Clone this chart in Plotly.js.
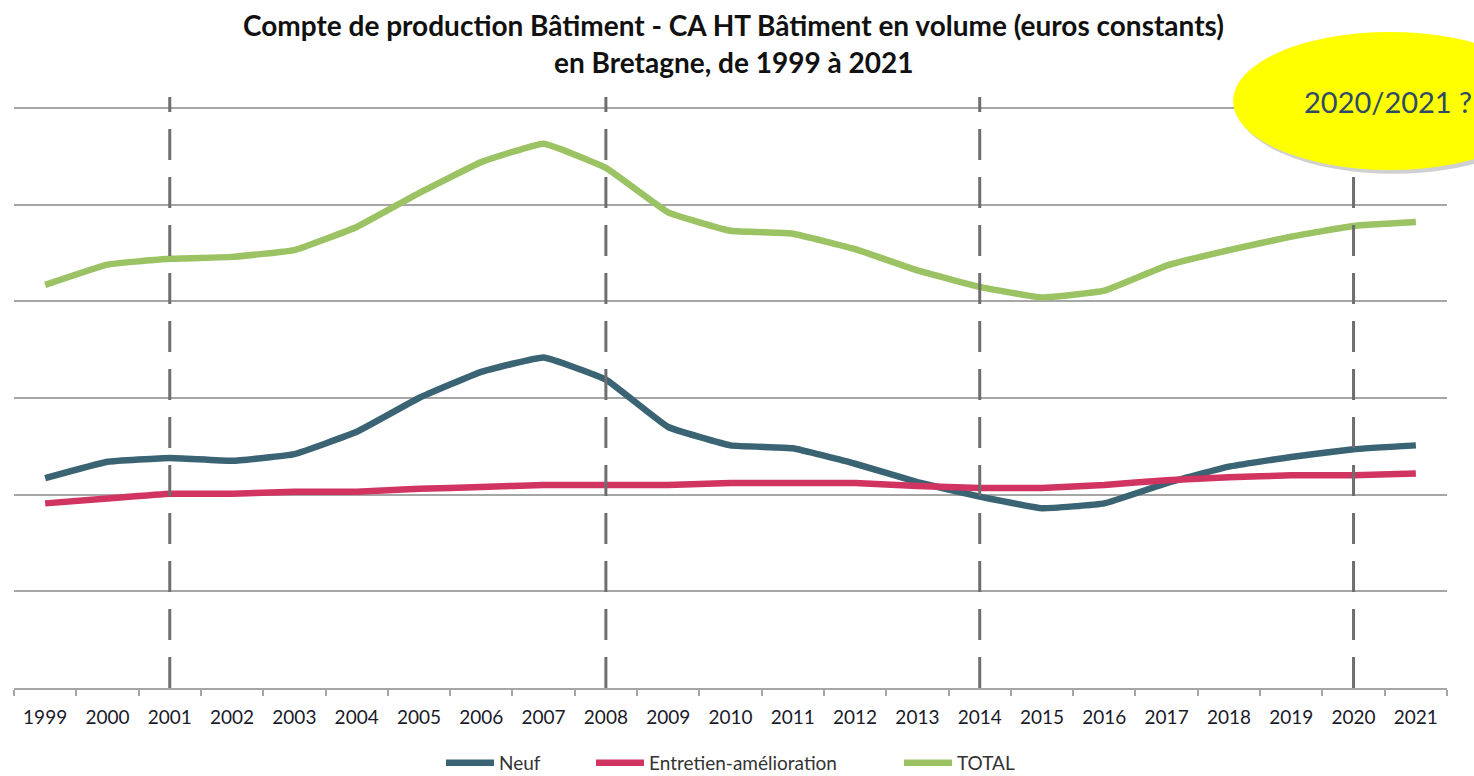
<!DOCTYPE html>
<html>
<head>
<meta charset="utf-8">
<script src="https://cdn.plot.ly/plotly-3.0.1.min.js"></script>
<style>html,body{margin:0;padding:0;background:#fff;}#chart{width:1474px;height:776px;}</style>
</head>
<body>
<div id="chart"></div>
<script>
const years = ["1999","2000","2001","2002","2003","2004","2005","2006","2007","2008","2009","2010","2011","2012","2013","2014","2015","2016","2017","2018","2019","2020","2021"];
const neuf = [2.17,2.34,2.38,2.35,2.42,2.65,3.00,3.27,3.42,3.19,2.70,2.51,2.48,2.32,2.13,1.98,1.86,1.91,2.12,2.29,2.39,2.47,2.51];
const entretien = [1.91,1.96,2.01,2.01,2.03,2.03,2.06,2.08,2.10,2.10,2.10,2.12,2.12,2.12,2.09,2.07,2.07,2.10,2.15,2.18,2.20,2.20,2.22];
const total = [4.17,4.38,4.44,4.46,4.53,4.77,5.12,5.44,5.63,5.38,4.92,4.73,4.70,4.54,4.32,4.15,4.04,4.11,4.37,4.53,4.67,4.78,4.82];
const markedYears = ["2001","2008","2014","2020"];
const seriesNames = ["Neuf","Entretien-amélioration","TOTAL"];
const colors = ["#3a6373","#d13461","#9bc263"];
const calloutText = "2020/2021 ?";
const titleLines = ["Compte de production Bâtiment - CA HT Bâtiment en volume (euros constants)", "en Bretagne, de 1999 à 2021"];

const legendIds = ["legend","legend2","legend3"];
const legendX = [441, 591, 899];

const mk = (y, i) => ({
  x: years, y: y, type: "scatter", mode: "lines", name: seriesNames[i], legend: legendIds[i],
  line: {color: colors[i], width: 6.5, shape: "spline", smoothing: 0.3},
  hoverinfo: "x+y"
});
const data = [mk(neuf,0), mk(entretien,1), mk(total,2)];

const shapes = markedYears.map(yr => ({
  type: "line", xref: "x", yref: "paper", x0: years.indexOf(yr), x1: years.indexOf(yr), y0: 0, y1: 1,
  line: {color: "#6e6e6e", width: 3, dash: "31px,17px"}, layer: "above"
}));
shapes.push({type: "circle", xref: "paper", yref: "paper", x0: 0.853, x1: 1.072, y0: 0.870, y1: 1.104,
  fillcolor: "rgba(120,120,120,0.35)", line: {width: 0}, layer: "above"});
shapes.push({type: "circle", xref: "paper", yref: "paper", x0: 0.8507, x1: 1.0698, y0: 0.8765, y1: 1.110,
  fillcolor: "#ffff00", line: {width: 0}, layer: "above"});

const legendBase = i => ({orientation: "h", xref: "container", yref: "container", x: legendX[i]/1474, xanchor: "left",
  y: (776-763)/776, yanchor: "middle", font: {size: 19, color: "#333"}, itemwidth: 48, bgcolor: "rgba(0,0,0,0)"});

const layout = {
  width: 1474, height: 776,
  margin: {l: 14, r: 27, t: 97, b: 88, autoexpand: false},
  paper_bgcolor: "#fff", plot_bgcolor: "#fff",
  font: {family: "Lato, 'DejaVu Sans', sans-serif", color: "#222"},
  xaxis: {type: "category", range: [-0.5, 22.5], tickson: "boundaries", ticks: "outside", ticklen: 6,
    tickcolor: "#a6a6a6", tickwidth: 1.5, showline: true, linecolor: "#a6a6a6", linewidth: 2,
    showgrid: false, zeroline: false, tickfont: {size: 19, color: "#1a1a2a"}, ticklabelstandoff: 11, fixedrange: true},
  yaxis: {range: [0, 6.114], dtick: 1, tick0: 0, showgrid: true, gridcolor: "#a6a6a6", gridwidth: 1.6,
    showticklabels: false, ticks: "", zeroline: false, showline: false, fixedrange: true},
  showlegend: true,
  legend: legendBase(0), legend2: legendBase(1), legend3: legendBase(2),
  shapes: shapes,
  annotations: [
    {xref: "paper", yref: "paper", x: (1302-14)/1433, y: (688-102)/591, xanchor: "left", yanchor: "middle",
      text: calloutText, showarrow: false, font: {size: 29, color: "#2e4a66", family: "Lato, sans-serif"}},
    {xref: "paper", yref: "paper", x: (733-14)/1433, y: (688-25)/591, xanchor: "center", yanchor: "middle",
      text: "<b>" + titleLines[0] + "</b>", showarrow: false, font: {size: 28, color: "#111", family: "Lato, sans-serif"}},
    {xref: "paper", yref: "paper", x: (733-14)/1433, y: (688-62)/591, xanchor: "center", yanchor: "middle",
      text: "<b>" + titleLines[1] + "</b>", showarrow: false, font: {size: 28, color: "#111", family: "Lato, sans-serif"}}
  ]
};
Plotly.newPlot("chart", data, layout, {displayModeBar: false});
</script>
</body>
</html>
